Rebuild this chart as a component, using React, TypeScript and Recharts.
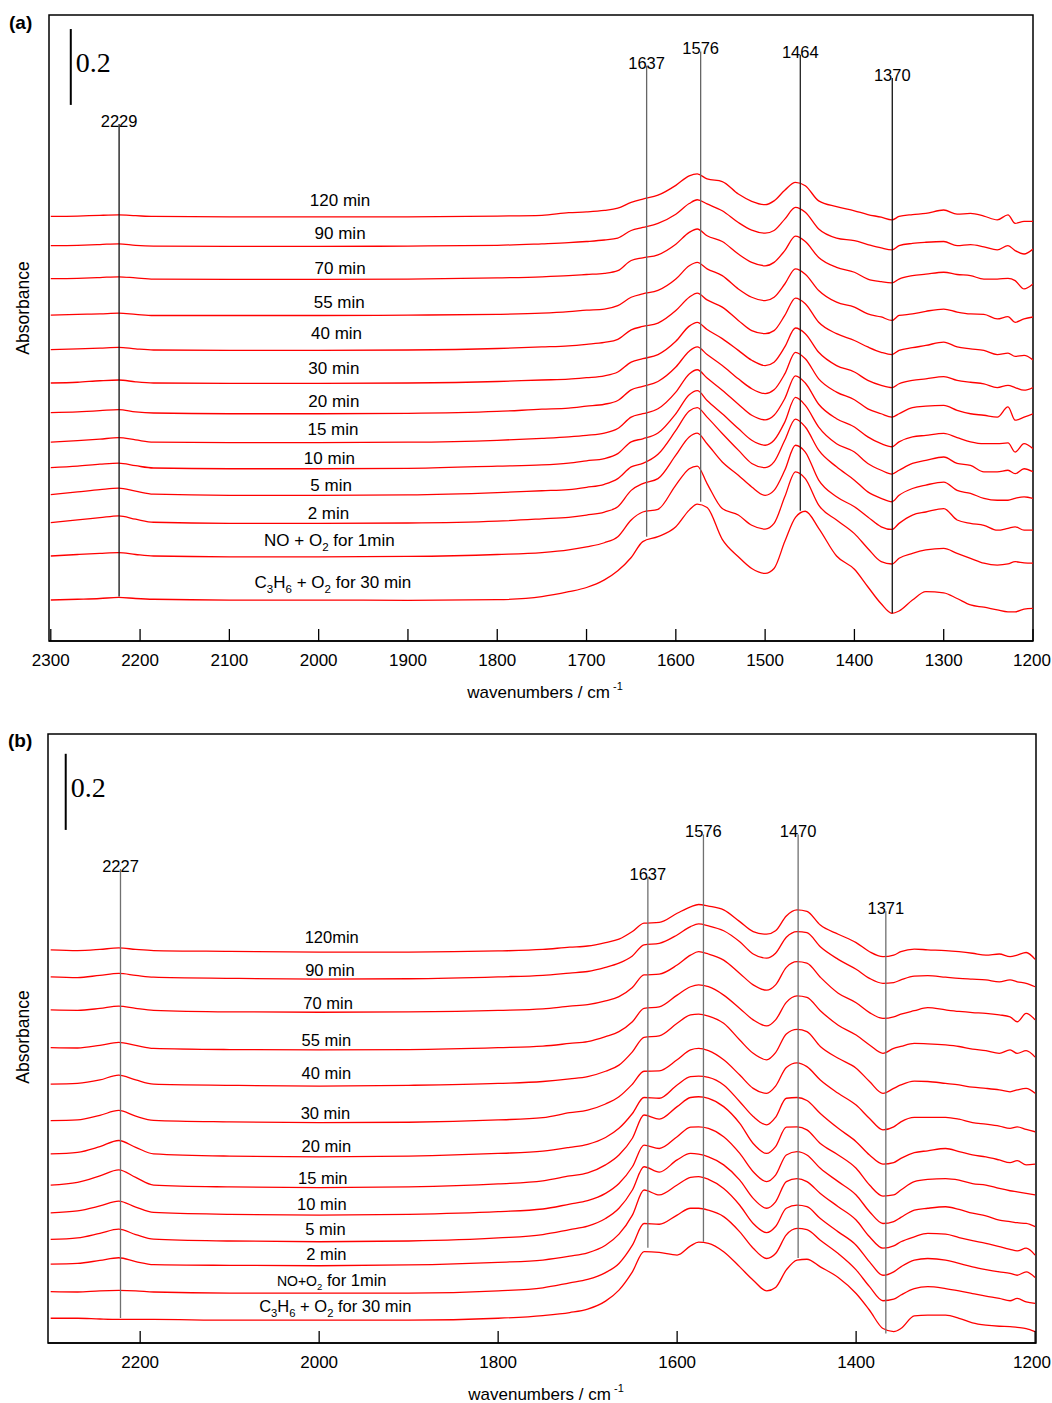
import { LineChart, Line, XAxis, YAxis, ReferenceLine, ReferenceArea, ReferenceDot } from "recharts"

const FONT = '"Liberation Sans", Arial, Helvetica, sans-serif'
const SERIF = '"Liberation Serif", "Times New Roman", serif'
const RED = "#ff0000"
const PAGE_W = 1052

// wavenumber grid (cm-1) shared by every spectrum
const wavenumbers = [
  2300, 2270, 2245, 2224, 2205, 2185, 2100, 2000, 1900, 1800, 1750, 1720, 1700, 1680, 1665, 1650,
  1637, 1620, 1600, 1585, 1576, 1565, 1548, 1530, 1515, 1500, 1490, 1478, 1466, 1455, 1440, 1420,
  1400, 1385, 1370, 1358, 1350, 1335, 1320, 1300, 1285, 1270, 1255, 1240, 1228, 1220, 1210, 1200,
]

// panel (a): absorbance, spectra offset for clarity (top = 120 min)
const a120 = [1.119, 1.120, 1.122, 1.123, 1.121, 1.119, 1.118, 1.118, 1.118, 1.120, 1.122, 1.129, 1.131, 1.135, 1.141, 1.156, 1.165, 1.175, 1.201, 1.226, 1.231, 1.218, 1.211, 1.178, 1.159, 1.150, 1.160, 1.188, 1.209, 1.200, 1.160, 1.145, 1.134, 1.124, 1.117, 1.110, 1.119, 1.124, 1.127, 1.136, 1.125, 1.127, 1.120, 1.110, 1.123, 1.101, 1.106, 1.106]
const a90 = [1.042, 1.043, 1.045, 1.047, 1.043, 1.041, 1.040, 1.040, 1.041, 1.043, 1.047, 1.050, 1.053, 1.057, 1.062, 1.082, 1.090, 1.101, 1.125, 1.153, 1.163, 1.152, 1.134, 1.103, 1.083, 1.075, 1.082, 1.112, 1.143, 1.130, 1.086, 1.062, 1.055, 1.045, 1.036, 1.031, 1.042, 1.048, 1.051, 1.053, 1.042, 1.045, 1.039, 1.031, 1.042, 1.029, 1.020, 1.033]
const a70 = [0.955, 0.956, 0.958, 0.960, 0.957, 0.954, 0.953, 0.953, 0.954, 0.957, 0.960, 0.963, 0.966, 0.969, 0.976, 1.003, 1.010, 1.018, 1.046, 1.077, 1.086, 1.068, 1.053, 1.020, 0.998, 0.989, 0.998, 1.029, 1.067, 1.053, 1.011, 0.985, 0.972, 0.954, 0.947, 0.944, 0.954, 0.963, 0.967, 0.972, 0.966, 0.963, 0.954, 0.954, 0.956, 0.950, 0.928, 0.941]
const a55 = [0.859, 0.861, 0.862, 0.864, 0.861, 0.858, 0.858, 0.858, 0.859, 0.861, 0.864, 0.868, 0.872, 0.875, 0.884, 0.906, 0.915, 0.924, 0.954, 0.989, 0.998, 0.981, 0.963, 0.928, 0.906, 0.897, 0.906, 0.941, 0.981, 0.967, 0.924, 0.893, 0.880, 0.862, 0.854, 0.845, 0.858, 0.862, 0.869, 0.875, 0.867, 0.862, 0.861, 0.849, 0.855, 0.840, 0.849, 0.854]
const a40 = [0.768, 0.770, 0.772, 0.774, 0.770, 0.767, 0.766, 0.766, 0.767, 0.771, 0.775, 0.778, 0.782, 0.787, 0.795, 0.820, 0.829, 0.838, 0.871, 0.906, 0.917, 0.899, 0.880, 0.845, 0.818, 0.810, 0.818, 0.858, 0.904, 0.889, 0.840, 0.810, 0.792, 0.775, 0.761, 0.755, 0.766, 0.773, 0.779, 0.788, 0.775, 0.770, 0.766, 0.755, 0.759, 0.750, 0.753, 0.741]
const a30 = [0.680, 0.682, 0.686, 0.688, 0.683, 0.680, 0.679, 0.679, 0.680, 0.684, 0.688, 0.690, 0.694, 0.699, 0.709, 0.735, 0.744, 0.755, 0.790, 0.830, 0.840, 0.821, 0.797, 0.766, 0.740, 0.726, 0.735, 0.775, 0.825, 0.810, 0.761, 0.726, 0.709, 0.687, 0.674, 0.668, 0.678, 0.687, 0.691, 0.697, 0.687, 0.682, 0.678, 0.668, 0.674, 0.668, 0.661, 0.668]
const a20 = [0.602, 0.604, 0.607, 0.610, 0.604, 0.601, 0.599, 0.599, 0.600, 0.605, 0.611, 0.614, 0.619, 0.624, 0.634, 0.662, 0.671, 0.684, 0.722, 0.764, 0.775, 0.755, 0.726, 0.691, 0.665, 0.652, 0.662, 0.704, 0.761, 0.744, 0.691, 0.656, 0.636, 0.612, 0.599, 0.590, 0.599, 0.615, 0.619, 0.621, 0.608, 0.599, 0.595, 0.590, 0.617, 0.582, 0.590, 0.599]
const a15 = [0.524, 0.528, 0.532, 0.536, 0.530, 0.524, 0.523, 0.523, 0.524, 0.529, 0.534, 0.538, 0.542, 0.548, 0.560, 0.590, 0.599, 0.612, 0.656, 0.704, 0.715, 0.693, 0.661, 0.624, 0.595, 0.583, 0.595, 0.639, 0.699, 0.680, 0.624, 0.586, 0.564, 0.538, 0.520, 0.512, 0.525, 0.538, 0.542, 0.547, 0.536, 0.525, 0.520, 0.520, 0.522, 0.498, 0.520, 0.507]
const a10 = [0.457, 0.461, 0.466, 0.469, 0.462, 0.456, 0.454, 0.454, 0.455, 0.461, 0.464, 0.469, 0.475, 0.481, 0.494, 0.525, 0.533, 0.548, 0.599, 0.649, 0.660, 0.634, 0.599, 0.560, 0.529, 0.516, 0.529, 0.577, 0.642, 0.621, 0.564, 0.520, 0.498, 0.468, 0.450, 0.440, 0.450, 0.468, 0.476, 0.485, 0.468, 0.463, 0.446, 0.446, 0.450, 0.441, 0.454, 0.446]
const a5 = [0.386, 0.393, 0.399, 0.403, 0.395, 0.387, 0.384, 0.384, 0.385, 0.391, 0.396, 0.399, 0.405, 0.413, 0.428, 0.459, 0.468, 0.492, 0.555, 0.606, 0.615, 0.590, 0.547, 0.503, 0.468, 0.457, 0.472, 0.529, 0.585, 0.564, 0.503, 0.459, 0.424, 0.393, 0.376, 0.367, 0.384, 0.402, 0.411, 0.419, 0.397, 0.389, 0.376, 0.371, 0.371, 0.376, 0.380, 0.376]
const a2 = [0.312, 0.319, 0.325, 0.330, 0.321, 0.313, 0.310, 0.310, 0.311, 0.316, 0.322, 0.326, 0.332, 0.340, 0.354, 0.397, 0.415, 0.428, 0.490, 0.538, 0.548, 0.520, 0.472, 0.437, 0.406, 0.384, 0.397, 0.450, 0.516, 0.498, 0.424, 0.380, 0.354, 0.327, 0.301, 0.294, 0.310, 0.332, 0.340, 0.349, 0.319, 0.310, 0.305, 0.292, 0.297, 0.301, 0.292, 0.292]
const aNO = [0.224, 0.228, 0.231, 0.233, 0.228, 0.224, 0.222, 0.222, 0.223, 0.228, 0.233, 0.240, 0.248, 0.259, 0.275, 0.319, 0.340, 0.347, 0.411, 0.454, 0.461, 0.415, 0.349, 0.332, 0.305, 0.295, 0.310, 0.380, 0.446, 0.428, 0.358, 0.319, 0.283, 0.244, 0.209, 0.203, 0.218, 0.231, 0.240, 0.244, 0.231, 0.218, 0.205, 0.200, 0.203, 0.209, 0.206, 0.205]
const aC3H6 = [0.108, 0.110, 0.112, 0.115, 0.112, 0.110, 0.108, 0.108, 0.107, 0.109, 0.117, 0.130, 0.141, 0.161, 0.185, 0.220, 0.262, 0.275, 0.301, 0.345, 0.361, 0.352, 0.268, 0.222, 0.191, 0.178, 0.191, 0.262, 0.326, 0.342, 0.297, 0.224, 0.189, 0.143, 0.098, 0.073, 0.079, 0.108, 0.130, 0.127, 0.112, 0.095, 0.089, 0.082, 0.077, 0.077, 0.084, 0.086]

// panel (b)
const b120 = [1.033, 1.031, 1.034, 1.038, 1.034, 1.031, 1.029, 1.027, 1.027, 1.030, 1.034, 1.040, 1.043, 1.052, 1.061, 1.081, 1.103, 1.105, 1.129, 1.146, 1.152, 1.148, 1.138, 1.107, 1.081, 1.074, 1.083, 1.122, 1.138, 1.134, 1.098, 1.074, 1.052, 1.028, 1.015, 1.019, 1.028, 1.035, 1.033, 1.031, 1.028, 1.024, 1.019, 1.022, 1.015, 1.019, 1.026, 1.008]
const b90 = [0.962, 0.960, 0.966, 0.971, 0.966, 0.961, 0.958, 0.956, 0.957, 0.962, 0.966, 0.972, 0.976, 0.987, 0.998, 1.017, 1.046, 1.050, 1.072, 1.094, 1.101, 1.096, 1.083, 1.054, 1.022, 1.011, 1.024, 1.066, 1.081, 1.078, 1.041, 1.008, 0.982, 0.958, 0.945, 0.947, 0.954, 0.964, 0.965, 0.961, 0.958, 0.956, 0.954, 0.949, 0.954, 0.949, 0.945, 0.936]
const b70 = [0.875, 0.874, 0.879, 0.885, 0.879, 0.874, 0.870, 0.869, 0.870, 0.874, 0.878, 0.885, 0.889, 0.899, 0.910, 0.934, 0.967, 0.969, 0.993, 1.019, 1.028, 1.022, 1.006, 0.971, 0.941, 0.927, 0.941, 0.987, 1.002, 0.998, 0.961, 0.919, 0.894, 0.868, 0.853, 0.857, 0.864, 0.873, 0.881, 0.875, 0.871, 0.868, 0.866, 0.862, 0.857, 0.844, 0.866, 0.849]
const b55 = [0.776, 0.775, 0.782, 0.790, 0.782, 0.774, 0.771, 0.770, 0.771, 0.776, 0.780, 0.787, 0.792, 0.805, 0.818, 0.844, 0.879, 0.883, 0.914, 0.936, 0.941, 0.936, 0.914, 0.879, 0.849, 0.833, 0.849, 0.895, 0.912, 0.908, 0.873, 0.835, 0.809, 0.783, 0.761, 0.774, 0.779, 0.787, 0.786, 0.783, 0.779, 0.772, 0.768, 0.761, 0.770, 0.761, 0.768, 0.751]
const b40 = [0.680, 0.682, 0.691, 0.704, 0.691, 0.680, 0.677, 0.675, 0.677, 0.682, 0.687, 0.694, 0.700, 0.714, 0.730, 0.765, 0.803, 0.807, 0.840, 0.862, 0.864, 0.859, 0.840, 0.796, 0.761, 0.744, 0.763, 0.812, 0.824, 0.818, 0.779, 0.748, 0.722, 0.687, 0.656, 0.669, 0.678, 0.688, 0.687, 0.682, 0.678, 0.672, 0.669, 0.665, 0.660, 0.665, 0.669, 0.656]
const b30 = [0.584, 0.586, 0.598, 0.611, 0.596, 0.585, 0.581, 0.579, 0.580, 0.586, 0.592, 0.605, 0.612, 0.628, 0.647, 0.680, 0.714, 0.715, 0.744, 0.770, 0.774, 0.768, 0.744, 0.704, 0.669, 0.656, 0.675, 0.724, 0.736, 0.726, 0.691, 0.656, 0.625, 0.590, 0.560, 0.568, 0.581, 0.593, 0.593, 0.593, 0.588, 0.579, 0.575, 0.570, 0.564, 0.568, 0.561, 0.555]
const b20 = [0.497, 0.501, 0.516, 0.532, 0.514, 0.497, 0.491, 0.489, 0.491, 0.498, 0.504, 0.514, 0.522, 0.540, 0.564, 0.603, 0.645, 0.643, 0.678, 0.700, 0.701, 0.698, 0.678, 0.634, 0.595, 0.573, 0.593, 0.643, 0.645, 0.637, 0.603, 0.564, 0.529, 0.494, 0.470, 0.474, 0.485, 0.500, 0.505, 0.511, 0.503, 0.494, 0.489, 0.481, 0.474, 0.479, 0.468, 0.470]
const b15 = [0.415, 0.422, 0.439, 0.455, 0.435, 0.415, 0.410, 0.408, 0.410, 0.418, 0.426, 0.439, 0.447, 0.468, 0.494, 0.538, 0.599, 0.588, 0.621, 0.645, 0.647, 0.643, 0.621, 0.577, 0.524, 0.498, 0.516, 0.567, 0.568, 0.560, 0.524, 0.494, 0.459, 0.415, 0.386, 0.389, 0.402, 0.424, 0.430, 0.432, 0.428, 0.419, 0.415, 0.406, 0.400, 0.397, 0.393, 0.389]
const b10 = [0.342, 0.347, 0.360, 0.373, 0.357, 0.343, 0.338, 0.336, 0.338, 0.345, 0.352, 0.365, 0.374, 0.393, 0.419, 0.463, 0.520, 0.511, 0.542, 0.567, 0.568, 0.564, 0.542, 0.498, 0.450, 0.424, 0.441, 0.494, 0.503, 0.494, 0.459, 0.424, 0.389, 0.345, 0.314, 0.319, 0.330, 0.349, 0.354, 0.358, 0.351, 0.341, 0.334, 0.323, 0.319, 0.316, 0.314, 0.306]
const b5 = [0.272, 0.276, 0.288, 0.299, 0.285, 0.273, 0.268, 0.266, 0.268, 0.276, 0.285, 0.298, 0.307, 0.327, 0.354, 0.402, 0.463, 0.449, 0.481, 0.498, 0.496, 0.489, 0.468, 0.428, 0.380, 0.354, 0.371, 0.424, 0.432, 0.424, 0.393, 0.358, 0.323, 0.279, 0.249, 0.255, 0.266, 0.279, 0.288, 0.286, 0.277, 0.269, 0.262, 0.253, 0.246, 0.242, 0.249, 0.231]
const b2 = [0.207, 0.209, 0.217, 0.224, 0.214, 0.206, 0.204, 0.203, 0.205, 0.212, 0.218, 0.228, 0.237, 0.257, 0.286, 0.336, 0.402, 0.389, 0.415, 0.435, 0.437, 0.430, 0.406, 0.362, 0.314, 0.290, 0.306, 0.354, 0.362, 0.358, 0.327, 0.292, 0.257, 0.213, 0.178, 0.187, 0.200, 0.218, 0.222, 0.218, 0.209, 0.200, 0.193, 0.187, 0.183, 0.178, 0.187, 0.172]
const bNO = [0.135, 0.134, 0.137, 0.138, 0.137, 0.134, 0.131, 0.131, 0.131, 0.137, 0.145, 0.158, 0.167, 0.185, 0.209, 0.257, 0.314, 0.312, 0.336, 0.354, 0.354, 0.349, 0.332, 0.292, 0.249, 0.222, 0.235, 0.284, 0.301, 0.298, 0.270, 0.235, 0.192, 0.148, 0.111, 0.115, 0.126, 0.143, 0.148, 0.143, 0.137, 0.130, 0.123, 0.117, 0.111, 0.117, 0.108, 0.104]
const bC3H6 = [0.065, 0.065, 0.063, 0.062, 0.062, 0.062, 0.060, 0.060, 0.060, 0.065, 0.072, 0.080, 0.089, 0.110, 0.139, 0.187, 0.240, 0.238, 0.231, 0.255, 0.265, 0.262, 0.240, 0.200, 0.165, 0.137, 0.146, 0.192, 0.218, 0.220, 0.200, 0.172, 0.130, 0.086, 0.038, 0.030, 0.038, 0.071, 0.073, 0.073, 0.065, 0.053, 0.047, 0.044, 0.043, 0.041, 0.038, 0.030]

const labelsA = ["120 min", "90 min", "70 min", "55 min", "40 min", "30 min", "20 min", "15 min", "10 min", "5 min", "2 min", "NO + O2 for 1min", "C3H6 + O2 for 30 min"]
const labelsB = ["120min", "90 min", "70 min", "55 min", "40 min", "30 min", "20 min", "15 min", "10 min", "5 min", "2 min", "NO+O2 for 1min", "C3H6 + O2 for 30 min"]

// where each spectrum's caption sits: [wavenumber, absorbance]
const captionAtA = [[1976, 1.162], [1976, 1.075], [1976, 0.984], [1977, 0.894], [1980, 0.811], [1983, 0.721], [1983, 0.633], [1984, 0.558], [1988, 0.482], [1986, 0.411], [1989, 0.339], [1988, 0.266], [1984, 0.155]]
const captionAtB = [[1986, 1.067], [1988, 0.98], [1990, 0.894], [1992, 0.796], [1992, 0.709], [1993, 0.604], [1992, 0.518], [1996, 0.434], [1997, 0.364], [1993, 0.299], [1992, 0.233], [1986, 0.166], [1982, 0.097]]

type Peak = { label: string; wn: number; top: number; bottom: number; color: string }

const peaksA: Peak[] = [
  { label: "2229", wn: 2223.5, top: 1.363, bottom: 0.117, color: "#111" },
  { label: "1637", wn: 1632.7, top: 1.516, bottom: 0.275, color: "#666" },
  { label: "1576", wn: 1572.2, top: 1.554, bottom: 0.367, color: "#666" },
  { label: "1464", wn: 1460.6, top: 1.545, bottom: 0.343, color: "#222" },
  { label: "1370", wn: 1357.6, top: 1.484, bottom: 0.073, color: "#111" },
]
const peaksB: Peak[] = [
  { label: "2227", wn: 2222, top: 1.245, bottom: 0.066, color: "#707070" },
  { label: "1637", wn: 1632.7, top: 1.224, bottom: 0.25, color: "#707070" },
  { label: "1576", wn: 1570.6, top: 1.336, bottom: 0.266, color: "#707070" },
  { label: "1470", wn: 1464.8, top: 1.336, bottom: 0.223, color: "#707070" },
  { label: "1371", wn: 1366.8, top: 1.134, bottom: 0.025, color: "#707070" },
]

const ticksA = [2300, 2200, 2100, 2000, 1900, 1800, 1700, 1600, 1500, 1400, 1300, 1200]
const ticksB = [2200, 2000, 1800, 1600, 1400, 1200]

type Seg = { text: string; sub?: boolean; scale?: number }

// "O2" -> O with subscript 2, etc.
function chem(text: string, smallLead = 0): Seg[] {
  const segs: Seg[] = []
  const re = /([A-Z][a-z]?)(\d+)/g
  let last = 0
  let m: RegExpExecArray | null
  while ((m = re.exec(text))) {
    segs.push({ text: text.slice(last, m.index) + m[1] })
    segs.push({ text: m[2], sub: true })
    last = m.index + m[0].length
  }
  segs.push({ text: text.slice(last) })
  let count = 0
  return segs
    .filter((s) => s.text)
    .map((s) => {
      const small = count < smallLead
      count += s.text.length
      return small ? { ...s, scale: 0.85 } : s
    })
}

function RichText({ x, y, segs, size }: { x: number; y: number; segs: Seg[]; size: number }) {
  let shift = 0
  return (
    <text x={x} y={y} textAnchor="middle" fontFamily={FONT} fontSize={size} fill="#000" style={{ whiteSpace: "pre" }}>
      {segs.map((s, i) => {
        const base = size * (s.scale ?? 1)
        const target = s.sub ? size * 0.28 : 0
        const dy = target - shift
        shift = target
        return (
          <tspan key={i} fontSize={s.sub ? base * 0.68 : base} dy={dy}>
            {s.text}
          </tspan>
        )
      })}
    </text>
  )
}

function InwardTick(props: any) {
  const { x, y, payload, length } = props
  // keep the last label inside the page
  const tx = Math.min(x, PAGE_W - 20)
  return (
    <g>
      <line x1={x} x2={x} y1={y} y2={y - length} stroke="#000" strokeWidth={1.3} />
      <text x={tx} y={y + 25} textAnchor="middle" fontFamily={FONT} fontSize={17} fill="#000">
        {payload.value}
      </text>
    </g>
  )
}

function AxisTitle(props: any) {
  const { viewBox } = props
  const cx = viewBox.x + viewBox.width / 2 + 4
  return (
    <text x={cx} y={viewBox.y + 57} textAnchor="middle" fontFamily={FONT} fontSize={17} fill="#000" style={{ whiteSpace: "pre" }}>
      wavenumbers / cm
      <tspan fontSize={11} dy={-8}> -1</tspan>
    </text>
  )
}

type PanelSpec = {
  height: number
  margin: { top: number; right: number; bottom: number; left: number }
  axisHeight: number
  xDomain: [number, number]
  yDomain: [number, number]
  ticks: number[]
  series: number[][]
  labels: Seg[][]
  captionAt: number[][]
  captionSize: number
  peaks: Peak[]
  bar: { wn: number; base: number; length: number }
}

function SpectraPanel({ spec }: { spec: PanelSpec }) {
  const rows = wavenumbers.map((wn, i) => {
    const row: Record<string, number> = { wn }
    spec.series.forEach((s, j) => {
      row[`s${j}`] = s[i]
    })
    return row
  })
  const [x0, x1] = spec.xDomain
  const [y0, y1] = spec.yDomain
  const { bar } = spec

  return (
    <LineChart width={PAGE_W} height={spec.height} data={rows} margin={spec.margin}>
      <XAxis
        dataKey="wn"
        type="number"
        domain={spec.xDomain}
        reversed
        allowDataOverflow
        ticks={spec.ticks}
        interval={0}
        tickSize={0}
        tickMargin={0}
        tickLine={false}
        tick={<InwardTick length={12} />}
        axisLine={{ stroke: "#000", strokeWidth: 1.5 }}
        height={spec.axisHeight}
        label={<AxisTitle />}
      />
      <YAxis type="number" domain={spec.yDomain} allowDataOverflow hide />
      <ReferenceArea x1={x0} x2={x1} y1={y0} y2={y1} fill="none" stroke="#000" strokeWidth={1.5} ifOverflow="visible" />

      {spec.series.map((_, j) => (
        <Line
          key={j}
          dataKey={`s${j}`}
          type="monotone"
          stroke={RED}
          strokeWidth={1.3}
          dot={false}
          activeDot={false}
          isAnimationActive={false}
        />
      ))}

      {spec.peaks.map((p) => (
        <ReferenceLine
          key={`pl${p.label}`}
          segment={[
            { x: p.wn, y: p.bottom },
            { x: p.wn, y: p.top },
          ]}
          stroke={p.color}
          strokeWidth={1.3}
          ifOverflow="visible"
        />
      ))}
      {spec.peaks.map((p) => (
        <ReferenceDot
          key={`pt${p.label}`}
          x={p.wn}
          y={p.top}
          r={0}
          ifOverflow="visible"
          shape={(d: any) => <RichText x={d.cx} y={d.cy + 3} segs={[{ text: p.label }]} size={16.5} />}
        />
      ))}

      {spec.labels.map((segs, j) => (
        <ReferenceDot
          key={`cap${j}`}
          x={spec.captionAt[j][0]}
          y={spec.captionAt[j][1]}
          r={0}
          ifOverflow="visible"
          shape={(d: any) => <RichText x={d.cx} y={d.cy + spec.captionSize * 0.36} segs={segs} size={spec.captionSize} />}
        />
      ))}

      <ReferenceLine
        segment={[
          { x: bar.wn, y: bar.base },
          { x: bar.wn, y: bar.base + bar.length },
        ]}
        stroke="#000"
        strokeWidth={2}
        ifOverflow="visible"
      />
      <ReferenceDot
        x={bar.wn}
        y={bar.base + bar.length / 2}
        r={0}
        ifOverflow="visible"
        shape={(d: any) => (
          <text x={d.cx + 5} y={d.cy + 5.5} fontFamily={SERIF} fontSize={28} fill="#000">
            {String(bar.length)}
          </text>
        )}
      />
    </LineChart>
  )
}

const panelA: PanelSpec = {
  height: 720,
  margin: { top: 15, right: 19, bottom: 0, left: 49 },
  axisHeight: 79,
  xDomain: [1200, 2302],
  yDomain: [0, 1.65],
  ticks: ticksA,
  series: [a120, a90, a70, a55, a40, a30, a20, a15, a10, a5, a2, aNO, aC3H6],
  labels: labelsA.map((t) => chem(t)),
  captionAt: captionAtA,
  captionSize: 17,
  peaks: peaksA,
  bar: { wn: 2277.6, base: 1.413, length: 0.2 },
}

const panelB: PanelSpec = {
  height: 683,
  margin: { top: 14, right: 16, bottom: 0, left: 48 },
  axisHeight: 60,
  xDomain: [1199, 2303],
  yDomain: [0, 1.6],
  ticks: ticksB,
  series: [b120, b90, b70, b55, b40, b30, b20, b15, b10, b5, b2, bNO, bC3H6],
  labels: labelsB.map((t) => chem(t, t.startsWith("NO+") ? 5 : 0)),
  captionAt: captionAtB,
  captionSize: 16.5,
  peaks: peaksB,
  bar: { wn: 2283.2, base: 1.348, length: 0.2 },
}

function Tag({ text, left, top }: { text: string; left: number; top: number }) {
  return (
    <div style={{ position: "absolute", left, top, fontFamily: FONT, fontWeight: 700, fontSize: 19, lineHeight: "20px" }}>
      {text}
    </div>
  )
}

function YTitle({ cx, cy }: { cx: number; cy: number }) {
  return (
    <div
      style={{
        position: "absolute",
        left: cx,
        top: cy,
        transform: "translate(-50%, -50%) rotate(-90deg)",
        fontFamily: FONT,
        fontSize: 17.5,
        whiteSpace: "nowrap",
        lineHeight: "20px",
      }}
    >
      Absorbance
    </div>
  )
}

export default function App() {
  return (
    <div style={{ position: "absolute", left: 0, top: 0, width: PAGE_W, height: 1403, background: "#fff" }}>
      <div style={{ position: "absolute", left: 0, top: 0 }}>
        <SpectraPanel spec={panelA} />
      </div>
      <div style={{ position: "absolute", left: 0, top: 720 }}>
        <SpectraPanel spec={panelB} />
      </div>
      <Tag text="(a)" left={9} top={13} />
      <Tag text="(b)" left={8} top={731} />
      <YTitle cx={23} cy={308} />
      <YTitle cx={23} cy={1037} />
    </div>
  )
}
